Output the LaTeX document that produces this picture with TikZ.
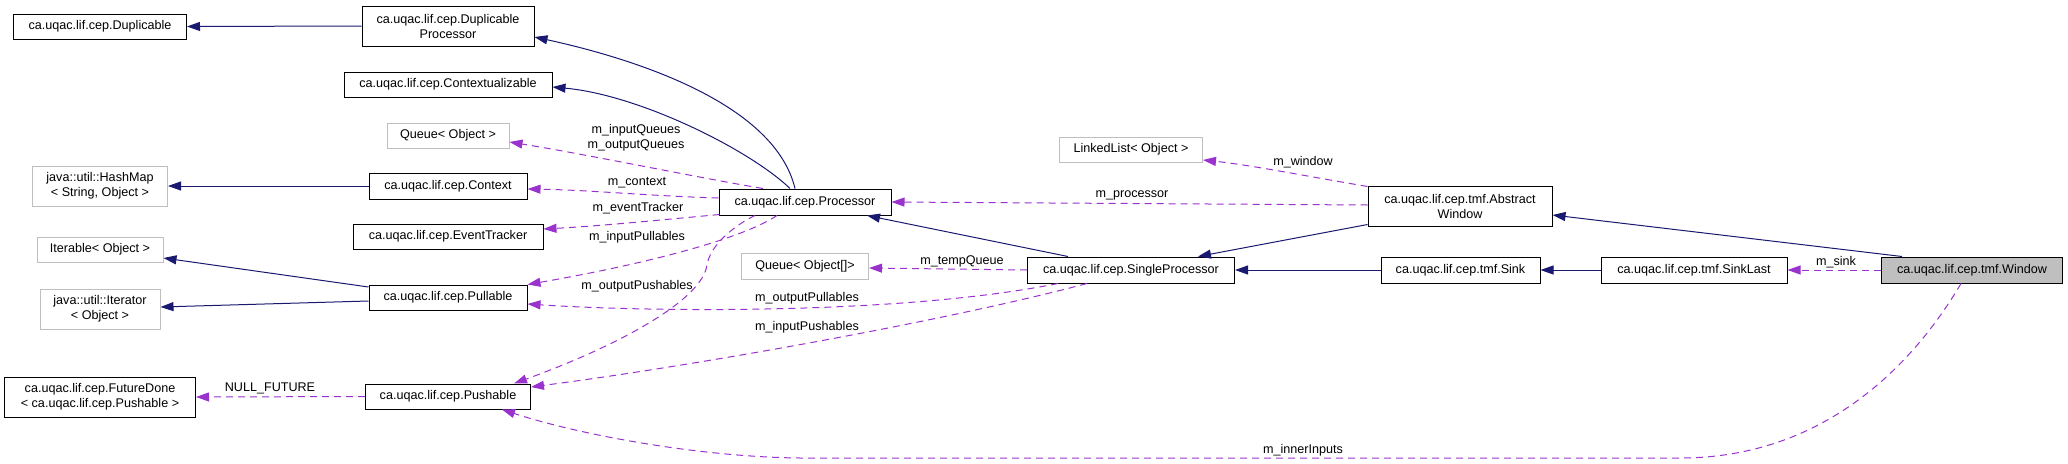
\documentclass[tikz,border=0pt]{standalone}
\usepackage{fontspec}
\setmainfont{Liberation Sans}
\usetikzlibrary{arrows.meta}
\definecolor{inhcol}{HTML}{191970}
\definecolor{usecol}{HTML}{9A32CD}
\definecolor{extcol}{HTML}{BFBFBF}
\begin{document}
\begin{tikzpicture}[x=1pt,y=-1pt,
  every node/.style={font=\fontsize{12.6}{15}\selectfont},
  cls/.style={draw=black, line width=1pt, fill=white, inner sep=0pt, align=center},
  ext/.style={cls, draw=extcol},
  cur/.style={cls, fill=extcol},
  bw/.style={minimum width=#1},
  bh/.style={minimum height=#1},
  inh/.style={draw=inhcol, line width=1pt, -{Triangle[length=13pt,width=9pt]}},
  use/.style={draw=usecol, line width=1pt, dash pattern=on 7pt off 5pt, -{Triangle[length=13pt,width=9pt]}},
  lbl/.style={inner sep=0pt, align=center}
]
\useasboundingbox (0,0) rectangle (2068,463);

% column 1
\node[cls, bw=173pt, bh=25pt] (dup) at (100,26.5) {ca.uqac.lif.cep.Duplicable};
\node[ext, bw=135pt, bh=40pt] (hashmap) at (100,186) {java::util::HashMap\\< String, Object >};
\node[ext, bw=126pt, bh=25pt] (iterable) at (100,249.5) {Iterable< Object >};
\node[ext, bw=120pt, bh=40pt] (iterator) at (100,309) {java::util::Iterator\\< Object >};
\node[cls, bw=191pt, bh=40pt] (future) at (100,397) {ca.uqac.lif.cep.FutureDone\\< ca.uqac.lif.cep.Pushable >};

% column 2
\node[cls, bw=172pt, bh=40pt] (dupproc) at (448,26) {ca.uqac.lif.cep.Duplicable\\Processor};
\node[cls, bw=208pt, bh=25pt] (ctxable) at (448,84.5) {ca.uqac.lif.cep.Contextualizable};
\node[ext, bw=122pt, bh=25pt] (queue) at (448,135.5) {Queue< Object >};
\node[cls, bw=158pt, bh=26pt] (context) at (448,186) {ca.uqac.lif.cep.Context};
\node[cls, bw=190pt, bh=25pt] (evtr) at (448,236.5) {ca.uqac.lif.cep.EventTracker};
\node[cls, bw=158pt, bh=25pt] (pullable) at (448,297.5) {ca.uqac.lif.cep.Pullable};
\node[cls, bw=165pt, bh=25pt] (pushable) at (448,396.5) {ca.uqac.lif.cep.Pushable};

% column 3
\node[cls, bw=172pt, bh=26pt] (processor) at (805,202) {ca.uqac.lif.cep.Processor};
\node[ext, bw=127pt, bh=26pt] (queuearr) at (805,266) {Queue< Object[]>};

% column 4
\node[ext, bw=143pt, bh=25pt] (linkedlist) at (1131,149.5) {LinkedList< Object >};
\node[cls, bw=207pt, bh=26pt] (single) at (1131,270) {ca.uqac.lif.cep.SingleProcessor};

% column 5
\node[cls, bw=184pt, bh=40pt] (abswin) at (1460,206) {ca.uqac.lif.cep.tmf.Abstract\\Window};
\node[cls, bw=159pt, bh=26pt] (sink) at (1460.5,270) {ca.uqac.lif.cep.tmf.Sink};

% columns 6, 7
\node[cls, bw=186pt, bh=26pt] (sinklast) at (1694,270) {ca.uqac.lif.cep.tmf.SinkLast};
\node[cur, bw=181pt, bh=26pt] (window) at (1972,270) {ca.uqac.lif.cep.tmf.Window};

% inheritance
\draw[inh] (dupproc.west) -- (dup.east);
\draw[inh] ([xshift=-10pt]processor.north) .. controls (775,105) and (640,60) .. ([yshift=-11pt]dupproc.east);
\draw[inh] ([xshift=-15pt]processor.north) .. controls (750,150) and (640,95) .. ([yshift=-2.5pt]ctxable.east);
\draw[inh] (context.west) -- (hashmap.east);
\draw[inh] ([yshift=10.5pt]pullable.west) -- ([yshift=-8.5pt]iterable.east);
\draw[inh] ([yshift=-3.5pt]pullable.west) -- ([yshift=2pt]iterator.east);
\draw[inh] ([xshift=-63pt]single.north) -- ([xshift=62pt]processor.south);
\draw[inh] ([yshift=2pt]abswin.south west) -- ([xshift=67pt]single.north);
\draw[inh] (sink.west) -- (single.east);
\draw[inh] (sinklast.west) -- (sink.east);
\draw[inh] ([xshift=-70pt]window.north) -- ([yshift=-9pt]abswin.east);

% usage
\draw[use] ([xshift=-42pt]processor.north) .. controls (700,178) and (590,155) .. ([yshift=-6.5pt]queue.east);
\draw[use] ([yshift=4pt]processor.west) .. controls (650,196) and (590,190) .. ([yshift=-3pt]context.east);
\draw[use] ([xshift=1pt,yshift=1pt]processor.south west) .. controls (660,220) and (600,226) .. ([yshift=7.5pt]evtr.east);
\draw[use] ([xshift=-28pt]processor.south) .. controls (740,240) and (640,265) .. (pullable.north east);
\draw[use] ([xshift=-50pt]processor.south) .. controls (735,225) and (710,245) .. (707,265) .. controls (702,300) and (620,345) .. ([xshift=-17pt]pushable.north east);
\draw[use] (pushable.west) -- (future.east);
\draw[use] (single.west) -- ([yshift=-2pt]queuearr.east);
\draw[use] ([xshift=-73pt]single.south) .. controls (900,315) and (650,312) .. ([yshift=-6.5pt]pullable.east);
\draw[use] ([xshift=-44pt]single.south) .. controls (950,320) and (700,365) .. ([yshift=9.5pt]pushable.east);
\draw[use] ([yshift=1pt]abswin.west) -- (processor.east);
\draw[use] ([yshift=-1pt]abswin.north west) .. controls (1300,175) and (1250,165) .. ([yshift=-10.5pt]linkedlist.east);
\draw[use] (window.west) -- (sinklast.east);
\draw[use] ([xshift=-11pt]window.south) .. controls (1910,370) and (1820,458) .. (1680,458) -- (800,458) .. controls (700,457) and (580,435) .. ([xshift=54pt]pushable.south);

% labels
\node[lbl] (lq) at (636,137.5) {m\_inputQueues\\m\_outputQueues};
\node[lbl] (lctx) at (637,183) {m\_context};
\node[lbl] (let) at (638,208) {m\_eventTracker};
\node[lbl] (lipl) at (637,237) {m\_inputPullables};
\node[lbl] (lops) at (637,286) {m\_outputPushables};
\node[lbl] (lopl) at (807,298) {m\_outputPullables};
\node[lbl] (lips) at (807,327) {m\_inputPushables};
\node[lbl] (ltq) at (962,261) {m\_tempQueue};
\node[lbl] (lproc) at (1132,195) {m\_processor};
\node[lbl] (lwin) at (1303,162) {m\_window};
\node[lbl] (lsink) at (1836,262) {m\_sink};
\node[lbl] (linner) at (1303,450) {m\_innerInputs};
\node[lbl] (lnull) at (270,388) {NULL\_FUTURE};
\end{tikzpicture}
\end{document}
